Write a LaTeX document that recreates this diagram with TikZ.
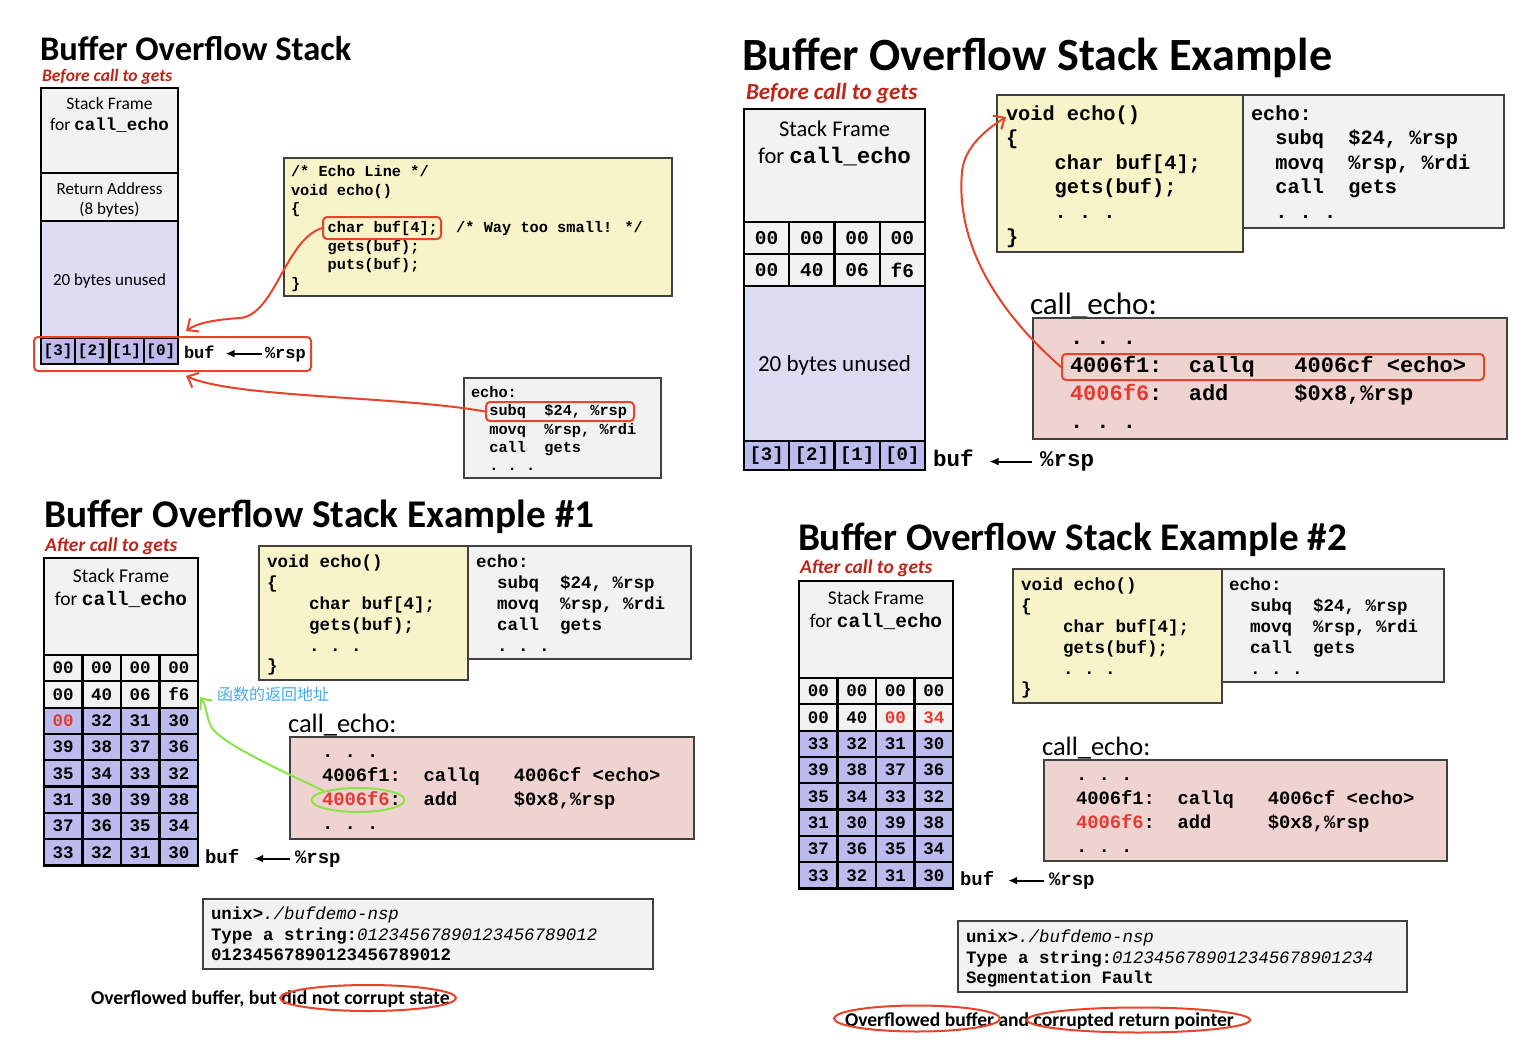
\documentclass[tikz,border=0pt]{standalone}
\usepackage{fontspec}
\setmainfont{Carlito}
\newfontfamily\codefont{Liberation Mono}
\newfontfamily\cjkfont{Noto Sans CJK SC}
\usepackage{xcolor}
\usepackage{tikz}
\usetikzlibrary{positioning}
\usetikzlibrary{arrows.meta}
\usetikzlibrary{shapes.geometric}

\definecolor{codeyellow}{HTML}{F8F4CA}
\definecolor{asmgray}{HTML}{F2F2F2}
\definecolor{callpink}{HTML}{EFD3D1}
\definecolor{unusedblue}{HTML}{DCDCF3}
\definecolor{bufblue}{HTML}{BBBBEE}
\definecolor{boxgray}{HTML}{404040}
\definecolor{notered}{HTML}{E8432B}
\definecolor{subred}{HTML}{BE2418}
\definecolor{addrred}{HTML}{E53A2F}
\definecolor{notegreen}{HTML}{8BE34B}
\definecolor{notecyan}{HTML}{45AAF0}

\newcommand{\fsz}[2]{\fontsize{#1}{#2}\selectfont}

\begin{document}
\begin{tikzpicture}[
    x=1pt, y=-1pt,
    title/.style={anchor=base west, inner sep=0, outer sep=0, font=\bfseries\fsz{#1}{#1}},
    subtitle/.style={anchor=base west, inner sep=0, outer sep=0, text=subred,
        font=\bfseries\itshape\fsz{#1}{#1}},
    regtxt/.style={anchor=base west, inner sep=0, outer sep=0},
    codebox/.style={draw=boxgray, line width=1.3pt, fill=codeyellow,
        anchor=north west, inner sep=0, outer sep=0},
    asmbox/.style={codebox, fill=asmgray},
    callbox/.style={codebox, fill=callpink},
    codetxt/.style={anchor=north west, inner sep=0, outer sep=0, align=left},
    framebox/.style={draw=black, line width=2.2pt, fill=asmgray,
        anchor=north west, inner sep=0, outer sep=0},
    stacktxt/.style={inner sep=0, align=center},
    hexcell/.style={draw=black, line width=2.2pt, inner sep=0},
    redbox/.style={draw=notered, line width=2pt, rounded corners=4pt, inner sep=0},
    redloop/.style={ellipse, draw=notered, line width=2pt, inner sep=0},
    redarrow/.style={draw=notered, line width=2pt,
        -{Straight Barb[length=9pt,width=16pt]}},
    greenarrow/.style={draw=notegreen, line width=2pt,
        -{Straight Barb[length=9pt,width=15pt]}},
    ptr/.style={draw=black, line width=2.2pt, -{Latex[length=9pt,width=8pt]}}
]

\useasboundingbox (0,0) rectangle (1524,1044);
\fill[white] (0,0) rectangle (1524,1044);

% ---------------- Buffer Overflow Stack
\node[title=34.5] (A-title) at (40,60) {Buffer Overflow Stack};
\node[subtitle=17.5] (A-sub) at (42,81) {Before call to gets};

\node[framebox, minimum width=137, minimum height=85] (A-frame) at (41,88) {};
\node[stacktxt, font=\fsz{17.5}{21}] (A-frame-t) at (109.5,114.5)
    {Stack Frame\\for {\codefont\bfseries call\_echo}};
\node[framebox, minimum width=137, minimum height=48] (A-ret) at (41,173) {};
\node[stacktxt, font=\fsz{17}{20}] (A-ret-t) at (109.5,200) {Return Address\\(8 bytes)};
\node[framebox, fill=unusedblue, minimum width=137, minimum height=117] (A-unused) at (41,221) {};
\node[stacktxt, font=\fsz{17}{20}] (A-unused-t) at (109.5,281) {20 bytes unused};
\foreach \v [count=\i] in {[3],[2],[1],[0]}
    \node[hexcell, fill=bufblue, minimum width=34.25, minimum height=26,
        font=\codefont\bfseries\fsz{16}{16}] (A-buf-\i) at ({41+34.25*(\i-0.5)},351) {\v};

\node[redbox, minimum width=277, minimum height=34] (A-bufmark) at (172.5,354) {};
\node[regtxt, font=\codefont\bfseries\fsz{17}{17}] (A-buf) at (184,358) {buf};
\node[regtxt, font=\codefont\bfseries\fsz{17}{17}] (A-rsp) at (265,358) {\%rsp};
\draw[ptr, shorten <=3pt, shorten >=11pt] ([yshift=2pt]A-rsp.mid west) -- ([yshift=2pt]A-buf.mid east);

\node[codebox, minimum width=388, minimum height=138] (A-code) at (284,158) {};
\node[codetxt, font=\codefont\bfseries\fsz{15.3}{18.67}] (A-code-t) at (291,163.4)
    {\strut/* Echo Line */\\void echo()\\\{\\\ \ \ \ char buf[4];\ \ /* Way too small! */\\%
     \ \ \ \ gets(buf);\\\ \ \ \ puts(buf);\\\}};
\node[redbox, minimum width=118, minimum height=22] (A-decl) at (382,228) {};

\node[asmbox, minimum width=197, minimum height=100] (A-asm) at (464,378) {};
\node[codetxt, font=\codefont\bfseries\fsz{15.3}{18.3}] (A-asm-t) at (471,384.7)
    {\strut echo:\\\ \ subq\ \ \$24, \%rsp\\\ \ movq\ \ \%rsp, \%rdi\\\ \ call\ \ gets\\\ \ .\ .\ .};
\node[redbox, minimum width=148, minimum height=19] (A-subq) at (560,411.5) {};

\coordinate (A-tip1) at (186,331);
\coordinate (A-tip2) at (186,376);
\draw[redarrow] (A-decl.west) .. controls (285,240) and (275,315) .. (240,318)
    .. controls (210,320) and (196,324) .. (A-tip1);
\draw[redarrow] (A-subq.west) .. controls (400,396) and (235,398) .. (A-tip2);

% ---------------- Buffer Overflow Stack Example
\node[title=46.2] (B-title) at (742,70) {Buffer Overflow Stack Example};
\node[subtitle=23] (B-sub) at (746,99) {Before call to gets};

\node[framebox, minimum width=181, minimum height=113] (B-frame) at (744,109) {};
\node[stacktxt, font=\fsz{22.5}{27}] (B-frame-t) at (834.5,143.5)
    {Stack Frame\\for {\codefont\bfseries call\_echo}};
\foreach \vals [count=\r] in {{00,00,00,00},{00,40,06,f6}}
    \foreach \v [count=\i] in \vals
        \node[hexcell, fill=asmgray, minimum width=45.25, minimum height=32,
            font=\codefont\bfseries\fsz{19.5}{19.5}] (B-\r-\i)
            at ({744+45.25*(\i-0.5)},{222+32*(\r-0.5)}) {\v};
\node[framebox, fill=unusedblue, minimum width=181, minimum height=155] (B-unused) at (744,286) {};
\node[stacktxt, font=\fsz{23}{27}] (B-unused-t) at (834.5,365) {20 bytes unused};
\foreach \v [count=\i] in {[3],[2],[1],[0]}
    \node[hexcell, fill=bufblue, minimum width=45.25, minimum height=29,
        font=\codefont\bfseries\fsz{19}{19}] (B-buf-\i) at ({744+45.25*(\i-0.5)},455.5) {\v};

\node[regtxt, font=\codefont\bfseries\fsz{22.5}{22.5}] (B-buf) at (933,466) {buf};
\node[regtxt, font=\codefont\bfseries\fsz{22.5}{22.5}] (B-rsp) at (1040,466) {\%rsp};
\draw[ptr, shorten <=8pt, shorten >=16pt] ([yshift=2pt]B-rsp.mid west) -- ([yshift=2pt]B-buf.mid east);

\node[codebox, minimum width=246, minimum height=157] (B-code) at (997,95) {};
\node[codetxt, font=\codefont\bfseries\fsz{20.3}{24.6}] (B-code-t) at (1006,102.8)
    {\strut void echo()\\\{\\\ \ \ \ char buf[4];\\\ \ \ \ gets(buf);\\\ \ \ \ .\ .\ .\\\}};
\node[asmbox, minimum width=261, minimum height=133] (B-asm) at (1243,95) {};
\node[codetxt, font=\codefont\bfseries\fsz{20.3}{24.6}] (B-asm-t) at (1251,102.8)
    {\strut echo:\\\ \ subq\ \ \$24, \%rsp\\\ \ movq\ \ \%rsp, \%rdi\\\ \ call\ \ gets\\\ \ .\ .\ .};

\node[regtxt, font=\fsz{31}{31}] (B-callt) at (1030,314) {call\_echo:};
\node[callbox, minimum width=474, minimum height=121] (B-call) at (1033,318) {};
\node[codetxt, font=\codefont\bfseries\fsz{22}{28}] (B-call-t) at (1070,324.4)
    {\strut.\ .\ .\\4006f1:\ \ callq\ \ \ 4006cf <echo>\\%
     \textcolor{addrred}{4006f6}:\ \ add\ \ \ \ \ \$0x8,\%rsp\\.\ .\ .};
\node[redbox, minimum width=422, minimum height=26] (B-callq) at (1273,367) {};

\coordinate (B-tip) at (1006,117);
\draw[redarrow] (B-callq.west) .. controls (1005,318) and (955,250) .. (962,172)
    .. controls (964,148) and (985,130) .. (B-tip);

% ---------------- Buffer Overflow Stack Example #1
\node[title=39.3] (C-title) at (44,527) {Buffer Overflow Stack Example \#1};
\node[subtitle=19.5] (C-sub) at (45,551) {After call to gets};

\node[framebox, minimum width=154, minimum height=97] (C-frame) at (44,558) {};
\node[stacktxt, font=\fsz{19.5}{23}] (C-frame-t) at (121,588.5)
    {Stack Frame\\for {\codefont\bfseries call\_echo}};
\foreach \vals [count=\r] in {{00,00,00,00},{00,40,06,f6}}
    \foreach \v [count=\i] in \vals
        \node[hexcell, fill=asmgray, minimum width=38.5, minimum height=26.3,
            font=\codefont\bfseries\fsz{17.5}{17.5}] (C-\r-\i)
            at ({44+38.5*(\i-0.5)},{655+26.3*(\r-0.5)}) {\v};
\foreach \vals [count=\r from 3] in {{\textcolor{addrred}{00},32,31,30},{39,38,37,36},
        {35,34,33,32},{31,30,39,38},{37,36,35,34},{33,32,31,30}}
    \foreach \v [count=\i] in \vals
        \node[hexcell, fill=bufblue, minimum width=38.5, minimum height=26.3,
            font=\codefont\bfseries\fsz{17.5}{17.5}] (C-\r-\i)
            at ({44+38.5*(\i-0.5)},{655+26.3*(\r-0.5)}) {\v};

\node[regtxt, font=\codefont\bfseries\fsz{19}{19}] (C-buf) at (205,863) {buf};
\node[regtxt, font=\codefont\bfseries\fsz{19}{19}] (C-rsp) at (295,863) {\%rsp};
\draw[ptr, shorten <=5pt, shorten >=15pt] ([yshift=2pt]C-rsp.mid west) -- ([yshift=2pt]C-buf.mid east);

\node[codebox, minimum width=209, minimum height=134] (C-code) at (259,546) {};
\node[codetxt, font=\codefont\bfseries\fsz{17.5}{20.8}] (C-code-t) at (267,553.4)
    {\strut void echo()\\\{\\\ \ \ \ char buf[4];\\\ \ \ \ gets(buf);\\\ \ \ \ .\ .\ .\\\}};
\node[asmbox, minimum width=223, minimum height=113] (C-asm) at (468,546) {};
\node[codetxt, font=\codefont\bfseries\fsz{17.5}{20.8}] (C-asm-t) at (476,553.4)
    {\strut echo:\\\ \ subq\ \ \$24, \%rsp\\\ \ movq\ \ \%rsp, \%rdi\\\ \ call\ \ gets\\\ \ .\ .\ .};

\node[anchor=west, inner sep=0, text=notecyan, font=\cjkfont\fsz{16}{16}] (C-note) at (217,694)
    {函数的返回地址};

\node[regtxt, font=\fsz{26.5}{26.5}] (C-callt) at (288,732) {call\_echo:};
\node[callbox, minimum width=404, minimum height=102] (C-call) at (290,737) {};
\node[codetxt, font=\codefont\bfseries\fsz{18.8}{23.7}] (C-call-t) at (322,741.4)
    {\strut.\ .\ .\\4006f1:\ \ callq\ \ \ 4006cf <echo>\\%
     \textcolor{addrred}{4006f6}:\ \ add\ \ \ \ \ \$0x8,\%rsp\\.\ .\ .};
\node[ellipse, draw=notegreen, line width=2pt, inner sep=0,
    minimum width=93, minimum height=24] (C-oval) at (358,800) {};

\coordinate (C-tip) at (200,697);
\draw[greenarrow] (C-oval.165) .. controls (262,762) and (222,742) .. (212,728)
    .. controls (206,718) and (207,706) .. (C-tip);

\node[asmbox, minimum width=450, minimum height=70] (C-term) at (203,899) {};
\node[codetxt, font=\codefont\bfseries\fsz{17.4}{20.5}] (C-term-t) at (211,905.6)
    {\strut unix>{\mdseries\itshape ./bufdemo-nsp}\\%
     Type a string:{\mdseries\itshape 01234567890123456789012}\\01234567890123456789012};

\node[regtxt, font=\bfseries\fsz{19.7}{19.7}] (C-concl) at (91,1004)
    {Overflowed buffer, but did not corrupt state};
\node[redloop, minimum width=176, minimum height=26] (C-loop) at (368,998) {};

% ---------------- Buffer Overflow Stack Example #2
\node[title=39.2] (D-title) at (798,550) {Buffer Overflow Stack Example \#2};
\node[subtitle=19.5] (D-sub) at (800,573) {After call to gets};

\node[framebox, minimum width=154, minimum height=97] (D-frame) at (799,581) {};
\node[stacktxt, font=\fsz{19.5}{23}] (D-frame-t) at (876,610.5)
    {Stack Frame\\for {\codefont\bfseries call\_echo}};
\foreach \vals [count=\r] in {{00,00,00,00},{00,40,\textcolor{addrred}{00},\textcolor{addrred}{34}}}
    \foreach \v [count=\i] in \vals
        \node[hexcell, fill=asmgray, minimum width=38.5, minimum height=26.3,
            font=\codefont\bfseries\fsz{17.5}{17.5}] (D-\r-\i)
            at ({799+38.5*(\i-0.5)},{678+26.3*(\r-0.5)}) {\v};
\foreach \vals [count=\r from 3] in {{33,32,31,30},{39,38,37,36},
        {35,34,33,32},{31,30,39,38},{37,36,35,34},{33,32,31,30}}
    \foreach \v [count=\i] in \vals
        \node[hexcell, fill=bufblue, minimum width=38.5, minimum height=26.3,
            font=\codefont\bfseries\fsz{17.5}{17.5}] (D-\r-\i)
            at ({799+38.5*(\i-0.5)},{678+26.3*(\r-0.5)}) {\v};

\node[regtxt, font=\codefont\bfseries\fsz{19}{19}] (D-buf) at (960,885) {buf};
\node[regtxt, font=\codefont\bfseries\fsz{19}{19}] (D-rsp) at (1049,885) {\%rsp};
\draw[ptr, shorten <=5pt, shorten >=14pt] ([yshift=2pt]D-rsp.mid west) -- ([yshift=2pt]D-buf.mid east);

\node[codebox, minimum width=209, minimum height=134] (D-code) at (1013,569) {};
\node[codetxt, font=\codefont\bfseries\fsz{17.5}{20.8}] (D-code-t) at (1021,576.4)
    {\strut void echo()\\\{\\\ \ \ \ char buf[4];\\\ \ \ \ gets(buf);\\\ \ \ \ .\ .\ .\\\}};
\node[asmbox, minimum width=222, minimum height=113] (D-asm) at (1222,569) {};
\node[codetxt, font=\codefont\bfseries\fsz{17.5}{20.8}] (D-asm-t) at (1229,576.4)
    {\strut echo:\\\ \ subq\ \ \$24, \%rsp\\\ \ movq\ \ \%rsp, \%rdi\\\ \ call\ \ gets\\\ \ .\ .\ .};

\node[regtxt, font=\fsz{26.5}{26.5}] (D-callt) at (1042,755) {call\_echo:};
\node[callbox, minimum width=403, minimum height=101] (D-call) at (1044,760) {};
\node[codetxt, font=\codefont\bfseries\fsz{18.8}{23.7}] (D-call-t) at (1076,764.4)
    {\strut.\ .\ .\\4006f1:\ \ callq\ \ \ 4006cf <echo>\\%
     \textcolor{addrred}{4006f6}:\ \ add\ \ \ \ \ \$0x8,\%rsp\\.\ .\ .};

\node[asmbox, minimum width=449, minimum height=71] (D-term) at (958,921) {};
\node[codetxt, font=\codefont\bfseries\fsz{17.4}{20.5}] (D-term-t) at (966,928.6)
    {\strut unix>{\mdseries\itshape ./bufdemo-nsp}\\%
     Type a string:{\mdseries\itshape 0123456789012345678901234}\\Segmentation Fault};

\node[regtxt, font=\bfseries\fsz{19.6}{19.6}] (D-concl) at (845,1026)
    {Overflowed buffer and corrupted return pointer};
\node[redloop, minimum width=166, minimum height=26] (D-loop1) at (917,1018.5) {};
\node[redloop, minimum width=223, minimum height=25] (D-loop2) at (1138.5,1020) {};

\end{tikzpicture}
\end{document}
